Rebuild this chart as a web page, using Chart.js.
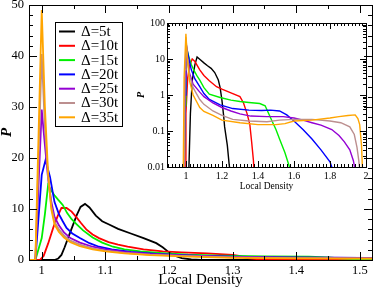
<!DOCTYPE html>
<html><head><meta charset="utf-8">
<script src="https://cdn.jsdelivr.net/npm/chart.js@4/dist/chart.umd.min.js"></script>
<style>
html,body{margin:0;padding:0;background:#fff;}
#wrap{position:relative;width:374px;height:289px;overflow:hidden;}
#main{position:absolute;left:0;top:0;width:374px;height:289px;}
#inset{position:absolute;left:130px;top:15px;width:240px;height:180px;}
</style></head><body>
<div id="wrap"><canvas id="main" width="374" height="289"></canvas><canvas id="inset" width="240" height="180"></canvas></div>
<script>
// ---------- data ----------
const seriesLabels = ['\u0394=5t','\u0394=10t','\u0394=15t','\u0394=20t','\u0394=25t','\u0394=30t','\u0394=35t'];
const seriesColors = ['#000000','#ff0000','#00f000','#0000ff','#9400d3','#bc8f8f','#ffa500'];

// main panel (linear), [localDensity, P]
const main5t = [[0.98,0],[1.02,0],[1.026,0.3],[1.031,1],[1.036,2.5],[1.041,4.2],[1.048,6.5],[1.055,8.8],[1.061,10.4],[1.068,11],[1.075,10.3],[1.085,8.7],[1.095,7.6],[1.105,7],[1.12,6.1],[1.14,5.2],[1.16,4.3],[1.18,3.3],[1.19,2.5],[1.2,1.5],[1.21,0.8],[1.22,0.35],[1.235,0.1],[1.25,0],[1.519,0]];
const main10t = [[0.98,0],[0.997,0],[1.003,0.8],[1.01,3.2],[1.018,6.3],[1.025,8.6],[1.031,10.2],[1.039,10.2],[1.047,9.5],[1.055,8.3],[1.062,7.2],[1.07,6],[1.08,5],[1.09,4.3],[1.105,3.5],[1.12,3],[1.135,2.6],[1.16,2.1],[1.19,1.7],[1.22,1.5],[1.26,1.3],[1.3,1.0],[1.31,0.8],[1.32,0.4],[1.34,0.15],[1.37,0.03],[1.4,0],[1.519,0]];
const main15t = [[0.98,0],[0.99,0],[1.0,4.3],[1.005,9],[1.01,14.7],[1.015,13.6],[1.02,12.7],[1.026,11.8],[1.033,10.8],[1.04,9.2],[1.047,8],[1.055,7],[1.065,5.8],[1.08,4.4],[1.095,3.4],[1.112,2.6],[1.13,2.1],[1.155,1.7],[1.19,1.35],[1.23,1.05],[1.28,0.85],[1.35,0.7],[1.42,0.65],[1.45,0.5],[1.47,0.3],[1.5,0.12],[1.519,0.07]];
const main20t = [[0.98,0],[0.99,0],[1.0,16.7],[1.006,19.6],[1.013,16.3],[1.02,11.4],[1.027,9],[1.033,7.6],[1.039,6.3],[1.048,5.2],[1.06,4.3],[1.075,3.3],[1.09,2.6],[1.11,2.1],[1.14,1.6],[1.18,1.2],[1.24,0.85],[1.3,0.65],[1.38,0.5],[1.45,0.45],[1.5,0.42],[1.519,0.4]];
const main25t = [[0.98,0],[0.99,0],[1.0,29.5],[1.005,22.5],[1.01,16],[1.015,11.5],[1.02,8.5],[1.027,6.8],[1.035,5.4],[1.045,4.3],[1.06,3.4],[1.08,2.6],[1.1,2.1],[1.13,1.6],[1.17,1.2],[1.22,0.9],[1.3,0.6],[1.4,0.45],[1.519,0.4]];
const main30t = [[0.98,0],[0.99,0],[1.0,40.4],[1.005,26],[1.01,16.5],[1.015,10.5],[1.02,7.5],[1.027,6],[1.035,4.8],[1.045,3.8],[1.06,3],[1.08,2.3],[1.1,1.85],[1.13,1.4],[1.17,1.05],[1.22,0.8],[1.3,0.5],[1.4,0.38],[1.519,0.33]];
const main35t = [[0.98,0],[0.99,0],[1.0,49],[1.005,30],[1.01,17],[1.015,10],[1.02,7],[1.027,5.5],[1.035,4.4],[1.045,3.5],[1.06,2.7],[1.08,2.1],[1.1,1.7],[1.13,1.3],[1.17,0.95],[1.22,0.7],[1.3,0.42],[1.4,0.3],[1.519,0.27]];

// inset panel (log P)
const inset5t = [[1.015,0.005],[1.025,0.3],[1.035,2.5],[1.05,7],[1.062,11.4],[1.08,9.5],[1.1,7.8],[1.12,6.5],[1.14,5.5],[1.16,4.2],[1.18,2.6],[1.19,1.6],[1.2,0.72],[1.21,0.25],[1.215,0.13],[1.23,0.04],[1.24,0.012],[1.25,0.005]];
const inset10t = [[0.995,0.005],[1.0,0.3],[1.01,3],[1.02,6.5],[1.035,10],[1.05,8.5],[1.077,5],[1.1,3.5],[1.13,2.5],[1.17,1.7],[1.2,1.45],[1.25,1.15],[1.3,0.9],[1.32,0.6],[1.34,0.3],[1.355,0.15],[1.365,0.05],[1.375,0.015],[1.38,0.005]];
const inset15t = [[0.99,0.005],[0.995,0.5],[1.0,4],[1.01,15],[1.02,10],[1.03,7],[1.044,4.9],[1.06,3.5],[1.077,2.6],[1.1,1.6],[1.13,1.05],[1.19,0.85],[1.25,0.72],[1.3,0.66],[1.35,0.62],[1.41,0.58],[1.44,0.5],[1.46,0.3],[1.48,0.18],[1.5,0.11],[1.52,0.06],[1.55,0.025],[1.575,0.01],[1.58,0.005]];
const inset20t = [[0.99,0.005],[0.995,1],[1.0,12],[1.006,19.6],[1.015,11],[1.03,5],[1.05,2.8],[1.077,1.7],[1.1,1.1],[1.13,0.75],[1.19,0.53],[1.26,0.42],[1.35,0.38],[1.42,0.37],[1.47,0.38],[1.52,0.36],[1.56,0.28],[1.6,0.19],[1.65,0.11],[1.7,0.06],[1.75,0.03],[1.8,0.014],[1.81,0.01],[1.82,0.005]];
const inset25t = [[0.99,0.005],[0.995,3],[1.0,29.5],[1.008,12],[1.02,4],[1.04,2],[1.077,1.2],[1.1,0.9],[1.15,0.6],[1.2,0.45],[1.25,0.36],[1.3,0.3],[1.36,0.26],[1.45,0.25],[1.54,0.25],[1.6,0.23],[1.65,0.2],[1.7,0.17],[1.75,0.145],[1.81,0.11],[1.85,0.075],[1.88,0.05],[1.91,0.03],[1.93,0.015],[1.94,0.008],[1.945,0.005]];
const inset30t = [[0.99,0.005],[0.995,5],[1.0,40],[1.008,12],[1.02,3.5],[1.04,1.6],[1.077,0.75],[1.1,0.55],[1.15,0.36],[1.2,0.27],[1.26,0.21],[1.35,0.19],[1.45,0.18],[1.52,0.2],[1.6,0.21],[1.7,0.21],[1.8,0.19],[1.86,0.17],[1.91,0.13],[1.935,0.08],[1.95,0.035],[1.96,0.015],[1.965,0.008],[1.97,0.005]];
const inset35t = [[0.985,0.005],[0.99,3],[1.0,50],[1.008,10],[1.02,2.5],[1.04,1],[1.077,0.45],[1.1,0.35],[1.15,0.27],[1.2,0.2],[1.3,0.17],[1.4,0.15],[1.5,0.15],[1.55,0.16],[1.6,0.19],[1.7,0.2],[1.8,0.23],[1.85,0.25],[1.9,0.27],[1.94,0.28],[1.955,0.22],[1.965,0.15],[1.975,0.04],[1.98,0.01],[1.985,0.005]];

const mainXTicks = [1,1.1,1.2,1.3,1.4,1.5];
const mainYTicks = [0,10,20,30,40,50];
const insetXTicks = [1,1.2,1.4,1.6,1.8,2];
const insetYTicks = [0.01,0.1,1,10,100];

const mainSeries = [main5t,main10t,main15t,main20t,main25t,main30t,main35t];
const insetSeries = [inset5t,inset10t,inset15t,inset20t,inset25t,inset30t,inset35t];

// ---------- helpers ----------
const SERIF = '"Liberation Serif","Times New Roman",serif';
function toPts(arr){ return arr.map(p => ({x:p[0], y:p[1]})); }
function makeDatasets(list, width){
  return list.map((arr,i) => ({
    label: seriesLabels[i], data: toPts(arr), borderColor: seriesColors[i],
    borderWidth: width, pointRadius: 0, tension: 0, fill: false, clip: 0, order: list.length - i
  }));
}
function range(a,b,s){ const r=[]; for(let v=a; v<=b+1e-9; v+=s) r.push(+v.toFixed(6)); return r; }

function frameTicks(id, o){
  return { id, afterDatasetsDraw(chart){
    const {ctx, chartArea:a, scales:{x,y}} = chart;
    ctx.save(); ctx.strokeStyle='#000'; ctx.lineWidth=1; ctx.beginPath();
    const xs=(vals,len)=>vals.forEach(v=>{const p=Math.round(x.getPixelForValue(v))+0.5; if(p<a.left-0.5||p>a.right+0.5) return;
      ctx.moveTo(p,a.bottom); ctx.lineTo(p,a.bottom-len); ctx.moveTo(p,a.top); ctx.lineTo(p,a.top+len);});
    const ys=(vals,len)=>vals.forEach(v=>{const p=Math.round(y.getPixelForValue(v))+0.5; if(p<a.top-0.5||p>a.bottom+0.5) return;
      ctx.moveTo(a.left,p); ctx.lineTo(a.left+len,p); ctx.moveTo(a.right,p); ctx.lineTo(a.right-len,p);});
    xs(o.xMajor,o.maj); xs(o.xMinor,o.min); ys(o.yMajor,o.maj); ys(o.yMinor,o.min);
    ctx.stroke();
    ctx.strokeRect(Math.round(a.left)+0.5, Math.round(a.top)+0.5, Math.round(a.right-a.left), Math.round(a.bottom-a.top));
    ctx.restore();
  }};
}

const legendPlugin = { id:'boxLegend', afterDraw(chart){
  const ctx = chart.ctx; ctx.save();
  ctx.fillStyle='#fff'; ctx.fillRect(55,22,68,105);
  ctx.strokeStyle='#000'; ctx.lineWidth=1; ctx.strokeRect(55.5,22.5,67,104);
  ctx.font = '15px '+SERIF; ctx.textBaseline='middle'; ctx.textAlign='left';
  chart.data.datasets.forEach((d,i)=>{
    const yy = 31.5 + i*14.3;
    ctx.strokeStyle=d.borderColor; ctx.lineWidth=2; ctx.beginPath(); ctx.moveTo(59,yy); ctx.lineTo(75,yy); ctx.stroke();
    ctx.fillStyle='#000'; ctx.fillText(d.label, 81, yy+0.5);
  });
  ctx.restore();
}};

// ---------- main chart ----------
new Chart(document.getElementById('main'), {
  type:'line',
  data:{ datasets: makeDatasets(mainSeries, 1.8) },
  options:{
    responsive:false, animation:false, events:[],
    layout:{ padding:{top:5,right:2,left:0,bottom:0} },
    plugins:{ legend:{display:false}, tooltip:{enabled:false} },
    scales:{
      x:{ type:'linear', min:0.98, max:1.519,
        grid:{display:false, drawTicks:false}, border:{display:false},
        afterBuildTicks: s => { s.ticks = mainXTicks.map(v=>({value:v})); },
        afterFit: s => { s.height = 29; s.paddingLeft = 0; s.paddingRight = 0; },
        ticks:{ autoSkip:false, maxRotation:0, padding:3, color:'#000', font:{family:SERIF,size:12.5}, callback:v=>String(v) },
        title:{ display:true, text:'Local Density', color:'#000', font:{family:SERIF,size:15,lineHeight:1}, padding:{top:0,bottom:1} }
      },
      y:{ type:'linear', min:0, max:50,
        grid:{display:false, drawTicks:false}, border:{display:false},
        afterBuildTicks: s => { s.ticks = mainYTicks.map(v=>({value:v})); },
        afterFit: s => { s.width = 29; s.paddingTop = 0; s.paddingBottom = 0; },
        ticks:{ autoSkip:false, padding:5, color:'#000', font:{family:SERIF,size:12.5}, callback:v=>String(v) },
        title:{ display:true, text:'P', color:'#000', font:{family:SERIF,size:15,style:'italic',weight:'bold',lineHeight:1}, padding:{top:0,bottom:0} }
      }
    }
  },
  plugins:[ frameTicks('mainTicks',{ xMajor:mainXTicks, xMinor:range(0.95,1.55,0.05), yMajor:mainYTicks, yMinor:range(0,50,2), maj:8, min:4 }), legendPlugin ]
});

// ---------- inset chart ----------
const logMinor = []; [0.01,0.1,1,10].forEach(d=>{ for(let k=2;k<=9;k++) logMinor.push(+(d*k).toPrecision(3)); });
new Chart(document.getElementById('inset'), {
  type:'line',
  data:{ datasets: makeDatasets(insetSeries, 1.4) },
  options:{
    responsive:false, animation:false, events:[],
    layout:{ padding:{top:8,right:4,left:0,bottom:0} },
    plugins:{ legend:{display:false}, tooltip:{enabled:false} },
    scales:{
      x:{ type:'linear', min:0.895, max:2.0,
        grid:{display:false, drawTicks:false}, border:{display:false},
        afterBuildTicks: s => { s.ticks = insetXTicks.map(v=>({value:v})); },
        afterFit: s => { s.height = 28; s.paddingLeft = 0; s.paddingRight = 0; },
        ticks:{ autoSkip:false, maxRotation:0, padding:3, color:'#000', font:{family:SERIF,size:10}, callback:v=>String(v) },
        title:{ display:true, text:'Local Density', color:'#000', font:{family:SERIF,size:9.5,lineHeight:1}, padding:{top:0,bottom:4} }
      },
      y:{ type:'logarithmic', min:0.01, max:100,
        grid:{display:false, drawTicks:false}, border:{display:false},
        afterBuildTicks: s => { s.ticks = insetYTicks.map(v=>({value:v})); },
        afterFit: s => { s.width = 37; s.paddingTop = 0; s.paddingBottom = 0; },
        ticks:{ autoSkip:false, padding:2, color:'#000', font:{family:SERIF,size:10}, callback:v=>String(v) },
        title:{ display:true, text:'P', color:'#000', font:{family:SERIF,size:10,style:'italic',weight:'bold',lineHeight:1}, padding:{top:6,bottom:0} }
      }
    }
  },
  plugins:[ frameTicks('insetTicks',{ xMajor:insetXTicks, xMinor:range(0.9,2.0,0.02), yMajor:insetYTicks, yMinor:logMinor, maj:6, min:3 }) ]
});
</script>
</body></html>
